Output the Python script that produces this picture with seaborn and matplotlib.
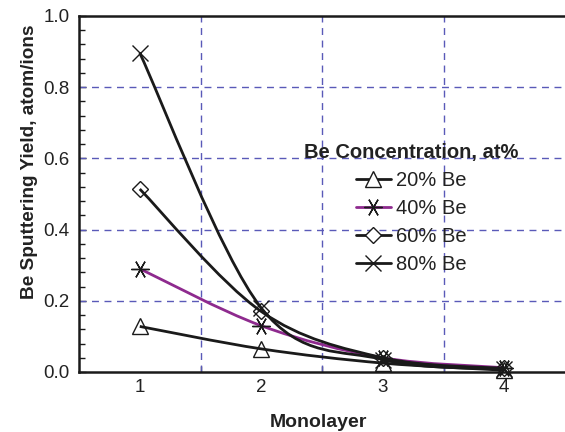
import numpy as np
import pandas as pd
import matplotlib
matplotlib.use("Agg")
import matplotlib.pyplot as plt
from matplotlib.path import Path
from matplotlib.patches import PathPatch
from matplotlib.lines import Line2D
from matplotlib.ticker import MultipleLocator, FixedLocator, NullFormatter, FixedFormatter
import seaborn as sns

# ---- data ----
monolayer = [1, 2, 3, 4]
be20 = [0.128, 0.065, 0.025, 0.005]
be40 = [0.290, 0.130, 0.040, 0.012]
be60 = [0.514, 0.170, 0.040, 0.010]
be80 = [0.896, 0.180, 0.035, 0.008]
series_labels = ["20% Be", "40% Be", "60% Be", "80% Be"]
x_tick_labels = ["1", "2", "3", "4"]

sns.set_theme(style="white")
plt.rcParams['font.family'] = ['Liberation Sans', 'DejaVu Sans']

fig = plt.figure(figsize=(5.65, 4.32), dpi=100)
ax = fig.add_axes([79/565, 1-372/432, 1-79/565, (372-16)/432])

styles = [
    dict(color="#1a1a1a", marker="^", ms=11),
    dict(color="#8e2a8e", marker=(6, 2, 90), ms=13),
    dict(color="#1a1a1a", marker="D", ms=8),
    dict(color="#1a1a1a", marker="x", ms=11),
]
all_series = [be20, be40, be60, be80]


def smooth_path(xs, ys):
    # Excel-like smoothed line through the points (cubic Bezier, tension 1/6)
    pts = np.column_stack([xs, ys]).astype(float)
    n = len(pts)
    verts = [pts[0]]
    codes = [Path.MOVETO]
    for i in range(n - 1):
        p0 = pts[i - 1] if i > 0 else pts[i]
        p1 = pts[i]
        p2 = pts[i + 1]
        p3 = pts[i + 2] if i + 2 < n else pts[i + 1]
        c1 = p1 + (p2 - p0) / 6.0
        c2 = p2 - (p3 - p1) / 6.0
        verts += [c1, c2, p2]
        codes += [Path.CURVE4] * 3
    return Path(verts, codes)


for vals, st in zip(all_series, styles):
    patch = PathPatch(smooth_path(monolayer, vals), facecolor="none",
                      edgecolor=st["color"], lw=2.0, zorder=3, clip_on=False)
    ax.add_patch(patch)

for vals, st in zip(all_series, styles):
    df = pd.DataFrame({"x": monolayer, "y": vals})
    sns.lineplot(data=df, x="x", y="y", ax=ax, linestyle="", marker=st["marker"],
                 markersize=st["ms"], markerfacecolor="none",
                 markeredgecolor="#1a1a1a", markeredgewidth=1.0,
                 zorder=4, clip_on=False, legend=False)

ax.set_xlim(0.5, 4.5)
ax.set_ylim(0, 1.0)

# grid
for gy in [0.2, 0.4, 0.6, 0.8]:
    ax.axhline(gy, color="#5a5ab8", lw=1.0, ls=(0, (5, 4)), zorder=1)
for gx in [1.5, 2.5, 3.5]:
    ax.axvline(gx, color="#5a5ab8", lw=1.0, ls=(0, (5, 4)), zorder=1)

# ticks
ax.yaxis.set_major_locator(MultipleLocator(0.2))
ax.yaxis.set_minor_locator(MultipleLocator(0.04))
ax.set_yticklabels([f"{v:.1f}" for v in ax.get_yticks()])
ax.xaxis.set_major_locator(FixedLocator([1.5, 2.5, 3.5]))
ax.xaxis.set_major_formatter(NullFormatter())
ax.xaxis.set_minor_locator(FixedLocator(monolayer))
ax.xaxis.set_minor_formatter(FixedFormatter(x_tick_labels))
ax.tick_params(axis="y", which="major", direction="in", length=5, width=1,
               color="#1a1a1a", labelsize=13.5, pad=7, left=True, labelcolor="#222222")
ax.tick_params(axis="y", which="minor", direction="in", length=4, width=1,
               color="#1a1a1a", left=True)
ax.tick_params(axis="x", which="major", direction="in", length=4, width=1,
               color="#1a1a1a", bottom=True)
ax.tick_params(axis="x", which="minor", length=0, labelsize=13.5, pad=5,
               labelcolor="#222222")

for side in ["left", "bottom", "top"]:
    ax.spines[side].set_color("#1a1a1a")
    ax.spines[side].set_linewidth(1.8)
ax.spines["right"].set_visible(False)

ax.set_xlabel("Monolayer", fontsize=14, fontweight="bold", color="#222222")
ax.set_ylabel("Be Sputtering Yield, atom/ions", fontsize=13.7, fontweight="bold",
              color="#222222")
ax.xaxis.set_label_coords((318 - 79) / 486, (372 - 414) / 356)
ax.yaxis.set_label_coords((38 - 79) / 486, (372 - 162) / 356)

handles = []
for st in styles:
    handles.append(Line2D([0], [0], color=st["color"], lw=2.0, marker=st["marker"],
                          markersize=st["ms"], markerfacecolor="white",
                          markeredgecolor="#1a1a1a", markeredgewidth=1.0))
leg = ax.legend(handles=handles, labels=series_labels, title="Be Concentration, at%",
                loc="upper center", bbox_to_anchor=(411/565, 1-133/432),
                bbox_transform=fig.transFigure, frameon=False, fontsize=14.5,
                title_fontproperties={"weight": "bold", "size": 14.5},
                borderpad=0, labelspacing=0.45, handlelength=1.75, handletextpad=0.25)
for t in leg.get_texts():
    t.set_color("#222222")
leg.get_title().set_color("#222222")

fig.savefig("out.png", dpi=100)
